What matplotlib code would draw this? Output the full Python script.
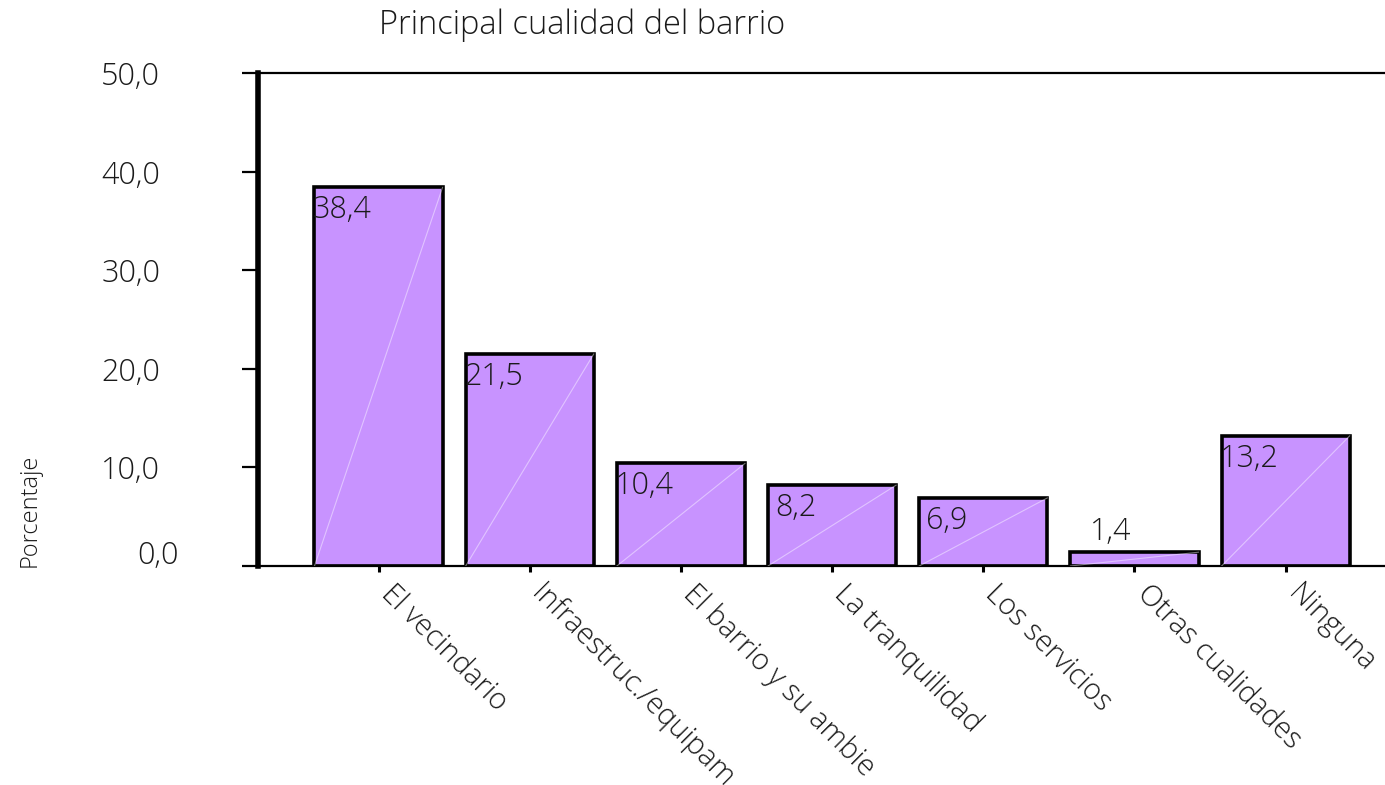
import numpy as np
import matplotlib.pyplot as plt
from matplotlib.transforms import ScaledTranslation

# data
categorias = ['El vecindario', 'Infraestruc./equipam', 'El barrio y su ambie',
              'La tranquilidad', 'Los servicios', 'Otras cualidades', 'Ninguna']
porcentaje = [38.4, 21.5, 10.4, 8.2, 6.9, 1.4, 13.2]
yticks = [0, 10, 20, 30, 40, 50]
ytick_labels = ['0,0', '10,0', '20,0', '30,0', '40,0', '50,0']

plt.rcParams['font.family'] = ['Open Sans', 'DejaVu Sans']
plt.rcParams['font.weight'] = 'light'
txt_color = '#1a1a1a'
bar_color = '#c893ff'

fig = plt.figure(figsize=(13.85, 7.85), dpi=100)
ax = fig.add_axes([0.1863, 0.279, 1.0 - 0.1863, 0.907 - 0.279])

x = np.arange(len(categorias))
width = 0.847
ax.bar(x, porcentaje, width, color=bar_color, edgecolor='black', linewidth=2.6, zorder=2)

# faint diagonal inside each bar
for xi, v in zip(x, porcentaje):
    ax.plot([xi - width/2, xi + width/2], [0, v], color='white', alpha=0.45, lw=0.8, zorder=3)

# value labels
for xi, v in zip(x, porcentaje):
    lab = ('%.1f' % v).replace('.', ',')
    if v < 3:
        ax.annotate(lab, (xi - 0.16, v), xytext=(0, 3), textcoords='offset points',
                    ha='center', va='bottom', fontsize=22, color=txt_color, zorder=4)
    else:
        ax.annotate(lab, (xi - 0.24, v), xytext=(0, -5), textcoords='offset points',
                    ha='center', va='top', fontsize=22, color=txt_color, zorder=4)

ax.set_xlim(-0.797, 6.657)
ax.set_ylim(0, 50)
ax.set_yticks(yticks)
ax.set_yticklabels(ytick_labels, fontsize=22, color=txt_color)
ax.set_xticks(x)
ax.set_xticklabels(categorias, rotation=-45, ha='left', va='top',
                   rotation_mode='anchor', fontsize=21, color=txt_color)

ax.tick_params(axis='y', direction='out', length=11.5, width=1.6, pad=59)
ax.tick_params(axis='x', direction='out', length=4.5, width=2.2, pad=5)

# the 0,0 label sits a bit off in the original
lbl0 = ax.get_yticklabels()[0]
lbl0.set_transform(lbl0.get_transform() + ScaledTranslation(0.19, 0.14, fig.dpi_scale_trans))
for lbl in ax.get_xticklabels():
    lbl.set_transform(lbl.get_transform() + ScaledTranslation(0.17, 0, fig.dpi_scale_trans))

ax.spines['right'].set_visible(False)
ax.spines['left'].set_linewidth(4)
ax.spines['top'].set_linewidth(1.6)
ax.spines['bottom'].set_linewidth(1.6)

fig.text(582/1385, 1 - 25/785, 'Principal cualidad del barrio', ha='center', va='center',
         fontsize=23.5, color=txt_color)
fig.text(30/1385, 1 - 510/785, 'Porcentaje', ha='center', va='center', rotation=90,
         fontsize=17, color=txt_color)

fig.savefig('out.png', dpi=100)
